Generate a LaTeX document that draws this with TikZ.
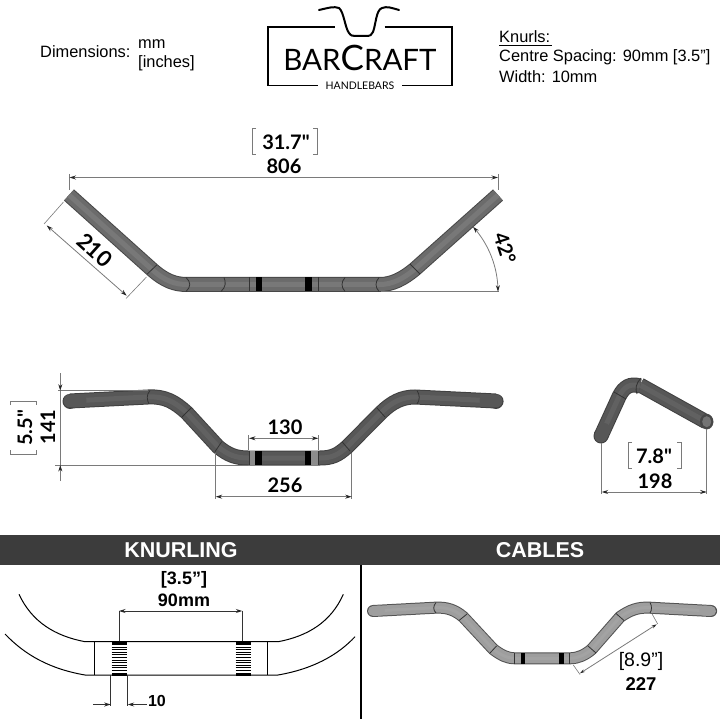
\documentclass[tikz,border=0pt]{standalone}
\usepackage{fontspec}
\setmainfont{Liberation Sans}
\newfontfamily\dimfont{Lato}
\usetikzlibrary{arrows.meta}
\definecolor{DimGray}{HTML}{7A7A7A}
\definecolor{BandGray}{HTML}{3C3C3C}
\tikzset{
    >={Stealth[length=6.5pt,width=4pt,black!85]},
    dimline/.style={DimGray,line width=0.8pt},
    extline/.style={DimGray,line width=0.6pt},
    seam/.style={black!80,line width=0.8pt},
    toplabel/.style={inner sep=0pt,font=\fontsize{16.4}{18}\selectfont},
    dimlabel/.style={inner sep=0pt,font=\dimfont\bfseries\fontsize{20}{22}\selectfont},
    boldlabel/.style={inner sep=0pt,font=\bfseries\fontsize{18}{20}\selectfont},
    bandlabel/.style={inner sep=0pt,white,font=\bfseries\fontsize{21.5}{24}\selectfont},
    darkedge/.style={line width=15pt,draw=black!72},
    darkbody/.style={line width=13pt,draw=black!58},
    darklight/.style={line width=5pt,draw=black!53},
    midedge/.style={line width=15pt,draw=black!75},
    midbody/.style={line width=13pt,draw=black!66},
    midlight/.style={line width=5pt,draw=black!62},
    paleedge/.style={line width=12pt,draw=black!68},
    palebody/.style={line width=10pt,draw=black!38},
    palelight/.style={line width=3pt,draw=black!36},
}
\newcommand{\tube}[2]{
    \draw[#1edge] #2;
    \draw[#1body] #2;
    \draw[#1light] #2;
}
\begin{document}
\begin{tikzpicture}[x=1pt,y=-1pt]
    \useasboundingbox (0,0) rectangle (720,719);

    % header texts
    \node[toplabel,anchor=west] (dimtitle) at (40,52) {Dimensions:};
    \node[toplabel,anchor=west] (dimmm) at (138,44) {mm};
    \node[toplabel,anchor=west] (diminch) at (138,63) {[inches]};
    \node[toplabel,anchor=west] (knurltitle) at (499,37) {Knurls:};
    \draw[black,line width=0.7pt] (499,45) -- (552,45);
    \node[toplabel,anchor=west] (knurlgap) at (499,57) {Centre Spacing: 90mm [3.5”]};
    \node[toplabel,anchor=west] (knurlwidth) at (499,77) {Width: 10mm};

    % logo
    \draw[line width=1.3pt] (334.5,27) -- (268,27) -- (268,85.5) -- (318,85.5);
    \draw[line width=1.3pt] (384.5,27) -- (452,27) -- (452,85.5) -- (401.5,85.5);
    \draw[line width=2pt,line cap=round] (319,10) .. controls (328,8) and (334,6) .. (339,8)
        .. controls (344,12) and (345,28) .. (349,33) .. controls (351,36) and (353,36) .. (356,36)
        -- (366,36) .. controls (370,36) and (372,35) .. (373,32)
        .. controls (376,24) and (376,10) .. (382,8) .. controls (387,6) and (392,8) .. (399,10);
    \node[inner sep=0pt,font=\dimfont] (logoname) at (360,58) {\fontsize{29.5}{30}\selectfont BAR\fontsize{35}{30}\selectfont C\fontsize{29.5}{30}\selectfont RAFT};
    \node[inner sep=0pt,font=\dimfont\fontsize{10.5}{12}\selectfont] (logosub) at (360,85.5) {HANDLEBARS};

    % top view
    \tube{dark}{(69,195) -- (152,269.5) .. controls (165,281) and (175,284.5) .. (187,284.5) -- (380,284.5) .. controls (392,284.5) and (403,279) .. (415,269) -- (498,195)}
    \draw[seam] (156.7,265) -- (147.3,274);
    \draw[seam] (410,264) -- (420,274);
    \draw[seam] (186,277.5) .. controls (191,282) and (191,287) .. (186,291.5);
    \draw[seam] (224,277.5) .. controls (226,282) and (226,287) .. (221,291.5);
    \draw[seam] (345,277.5) .. controls (341,282) and (341,287) .. (345,291.5);
    \draw[seam] (379,277.5) .. controls (375,282) and (375,287) .. (379,291.5);
    \fill[black] (256,277.5) rectangle (262,291.5);
    \fill[black] (305,277.5) rectangle (311.5,291.5);
    \draw[seam] (249,277.5) -- (249,291.5);
    \draw[seam] (318.5,277.5) -- (318.5,291.5);

    \coordinate (widthL) at (69.5,177.5);
    \coordinate (widthR) at (498,177.5);
    \draw[extline] (69.5,174) -- (69.5,190);
    \draw[extline] (498,174) -- (498,190);
    \draw[dimline,<->] (widthL) -- (widthR);
    \node[dimlabel] (widthmm) at (284,166) {806};
    \node[dimlabel] (widthin) at (286,142) {31.7"};
    \draw[extline] (256,128) -- (252,128) -- (252,154) -- (256,154);
    \draw[extline] (313,128) -- (317,128) -- (317,154) -- (313,154);

    \coordinate (gripA) at (46.7,225.5);
    \coordinate (gripB) at (126.7,295.7);
    \draw[extline] (63.5,202) -- (44,224);
    \draw[extline] (146.5,277) -- (126,298.5);
    \draw[dimline,<->] (gripA) -- (gripB);
    \node[dimlabel,rotate=-42,font=\dimfont\bfseries\fontsize{22}{22}\selectfont] (gripmm) at (95,250) {210};

    \draw[extline] (381,291.7) -- (499,291.7);
    \draw[dimline,<->,domain=0:42,samples=30] plot ({401+97*cos(\x)},{291.7-97*sin(\x)});
    \node[dimlabel,rotate=-72] (anglelab) at (505,248) {42°};

    % front view
    \tube{mid}{(70,401) -- (148,397) .. controls (165,396) and (175,402) .. (187,413) -- (218,446.7) .. controls (228,455) and (236,458) .. (248,458) -- (320,458) .. controls (332,458) and (338,455) .. (347.3,446.7) -- (381,412.7) .. controls (392,402) and (402,397) .. (415,397) -- (496,401)}
    \draw[midedge,line cap=round] (70,401) -- (70.1,401);
    \draw[midbody,line cap=round] (70,401) -- (80,400.5);
    \draw[midedge,line cap=round] (496,401) -- (496.1,401);
    \draw[midbody,line cap=round] (496,401) -- (486,400.5);
    \draw[seam] (150,390.5) .. controls (146,395) and (147,400) .. (149,404);
    \draw[seam] (417,390.5) .. controls (420,395) and (420,400) .. (417,404);
    \draw[seam] (191,408) -- (182,417);
    \draw[seam] (221.7,441.7) -- (215,451.7);
    \draw[seam] (342,441.7) -- (350,451);
    \draw[seam] (377,408) -- (385,417);
    \fill[black!45] (249,451) rectangle (255,465);
    \fill[black!45] (311,451) rectangle (318,465);
    \fill[black] (255,451) rectangle (262,465);
    \fill[black] (305,451) rectangle (311,465);
    \draw[seam] (249,451) -- (249,465);
    \draw[seam] (318,451) -- (318,465);

    \coordinate (riseT) at (60.3,390.7);
    \coordinate (riseB) at (60.3,465);
    \draw[extline] (58,390.7) -- (148,390.7);
    \draw[extline] (55,465) -- (248,465);
    \draw[dimline,->] (60.3,373) -- (riseT);
    \draw[dimline,->] (60.3,481) -- (riseB);
    \draw[extline] (riseT) -- (riseB);
    \node[dimlabel,rotate=90] (risemm) at (48,427) {141};
    \node[dimlabel,rotate=90] (risein) at (25,428) {5.5"};
    \draw[extline] (10.7,405) -- (10.7,401) -- (36,401) -- (36,405);
    \draw[extline] (10.7,450) -- (10.7,454) -- (36,454) -- (36,450);

    \coordinate (knurlL) at (249,438.3);
    \coordinate (knurlR) at (318.3,438.3);
    \draw[extline] (248.5,435) -- (248.5,450);
    \draw[extline] (318.3,435) -- (318.3,450);
    \draw[dimline,<->] (knurlL) -- (knurlR);
    \node[dimlabel] (knurlmm) at (285,427) {130};

    \coordinate (riserL) at (215.7,496.7);
    \coordinate (riserR) at (351.7,496.7);
    \draw[extline] (215.7,453) -- (215.7,499);
    \draw[extline] (351.7,453) -- (351.7,499);
    \draw[dimline,<->] (riserL) -- (riserR);
    \node[dimlabel] (risermm) at (285,485) {256};

    % side view
    \tube{mid}{(640,385) -- (706,421.7)}
    \draw[fill=black!72,draw=black!72] (706.7,421.7) ellipse (6.5 and 7.5);
    \draw[fill=black!55,draw=none] (706.7,421.7) ellipse (4.5 and 5.5);
    \tube{mid}{(601,436) -- (619.3,396) .. controls (624,387) and (630,383) .. (640,386)}
    \draw[midedge,line cap=round] (601,436) -- (601.1,435.8);
    \draw[midbody,line cap=round] (601,436) -- (604,429.5);
    \draw[seam] (614,392) -- (626,399);
    \draw[seam] (641,378) .. controls (636,383) and (635,389) .. (637,394);

    \coordinate (reachL) at (601.7,492);
    \coordinate (reachR) at (706.7,492);
    \draw[extline] (601.7,443) -- (601.7,494);
    \draw[extline] (706.7,429) -- (706.7,494);
    \draw[dimline,<->] (reachL) -- (reachR);
    \node[dimlabel] (reachmm) at (655,481) {198};
    \node[dimlabel] (reachin) at (654,456) {7.8"};
    \draw[extline] (632,442.7) -- (628.3,442.7) -- (628.3,468) -- (632,468);
    \draw[extline] (677,442.7) -- (681,442.7) -- (681,468) -- (677,468);

    % bands
    \fill[BandGray] (0,535) rectangle (720,565);
    \node[bandlabel] (knurlband) at (181,550.5) {KNURLING};
    \node[bandlabel] (cableband) at (540,550.5) {CABLES};
    \draw[black,line width=2pt] (361,565) -- (361,719);

    % knurling detail
    \draw[line width=1pt] (19,594.3) .. controls (32,622) and (55,636) .. (85,641.7) -- (278.3,641.7) .. controls (308,636) and (331,622) .. (343.3,594.3);
    \draw[line width=1pt] (5,634) .. controls (25,655) and (50,669) .. (85,675) -- (278,675) .. controls (313,669) and (338,655) .. (355,636.7);
    \draw[line width=1pt] (94.3,641.7) -- (94.3,675);
    \draw[line width=1pt] (267.3,641.7) -- (267.3,675);
    \foreach \kx in {111.7,235.7} {
        \fill[black] (\kx,641) rectangle (\kx+15,645);
        \fill[black] (\kx,672.5) rectangle (\kx+15,675.5);
        \foreach \ky in {647,649.6,...,671} {
            \draw[black,line width=0.9pt] (\kx,\ky) -- (\kx+15,\ky);
        }
    }
    \coordinate (gapL) at (119,611);
    \coordinate (gapR) at (242.3,611);
    \draw[black!80,line width=0.8pt] (gapL) -- (119,641);
    \draw[black!80,line width=0.8pt] (gapR) -- (242.3,641);
    \draw[black!80,line width=0.8pt,<->] (gapL) -- (gapR);
    \node[boldlabel] (gapmm) at (184,600) {90mm};
    \node[boldlabel] (gapin) at (184,579.5) {[3.5”]};

    \coordinate (tenL) at (110.7,704.5);
    \coordinate (tenR) at (127.7,704.5);
    \draw[black!80,line width=0.8pt] (110.7,675) -- (110.7,706);
    \draw[black!80,line width=0.8pt] (127.7,675) -- (127.7,706);
    \draw[black!80,line width=0.8pt,->] (93.3,704.5) -- (tenL);
    \draw[black!80,line width=0.8pt,->] (146.7,704.5) -- (tenR);
    \node[boldlabel,font=\bfseries\fontsize{16}{18}\selectfont] (tenlab) at (157,701) {10};

    % cables
    \tube{pale}{(373,611) -- (435,607.7) .. controls (447,607) and (455,610) .. (463.3,617) -- (493.3,649.3) .. controls (501,655) and (507,658.3) .. (515,658.3) -- (570,658.3) .. controls (578,658.3) and (585,655) .. (591.7,649.3) -- (620,617) .. controls (630,610) and (638,607) .. (650,607.7) -- (711,611)}
    \draw[paleedge,line cap=round] (373,611) -- (373.1,611);
    \draw[palebody,line cap=round] (373,611) -- (380,610.6);
    \draw[paleedge,line cap=round] (711,611) -- (711.1,611);
    \draw[palebody,line cap=round] (711,611) -- (704,610.6);
    \draw[seam] (436,602.5) .. controls (433,606) and (433,610) .. (436,613);
    \draw[seam] (650,602.5) .. controls (652,606) and (652,610) .. (650,613);
    \draw[seam] (467,614) -- (459,620.5);
    \draw[seam] (496.5,646) -- (490,653);
    \draw[seam] (588,646) -- (596,653);
    \draw[seam] (616,613.5) -- (624,620.5);
    \fill[black] (520.7,653) rectangle (525,664);
    \fill[black] (559,653) rectangle (564,664);
    \draw[seam] (514,653) -- (514,664);
    \draw[seam] (569,653) -- (569,664);

    \coordinate (cableA) at (580,673.3);
    \coordinate (cableB) at (656.7,624.3);
    \draw[extline] (573.3,665) -- (580,674.5);
    \draw[extline] (651.7,613.3) -- (657.7,624);
    \draw[dimline,<->,>={Stealth[length=5pt,width=3pt,black!85]}] (cableA) -- (cableB);
    \node[inner sep=0pt,font=\fontsize{19.5}{22}\selectfont] (cablein) at (641,661) {[8.9”]};
    \node[boldlabel,font=\bfseries\fontsize{18.5}{22}\selectfont] (cablemm) at (641,684.5) {227};
\end{tikzpicture}
\end{document}
